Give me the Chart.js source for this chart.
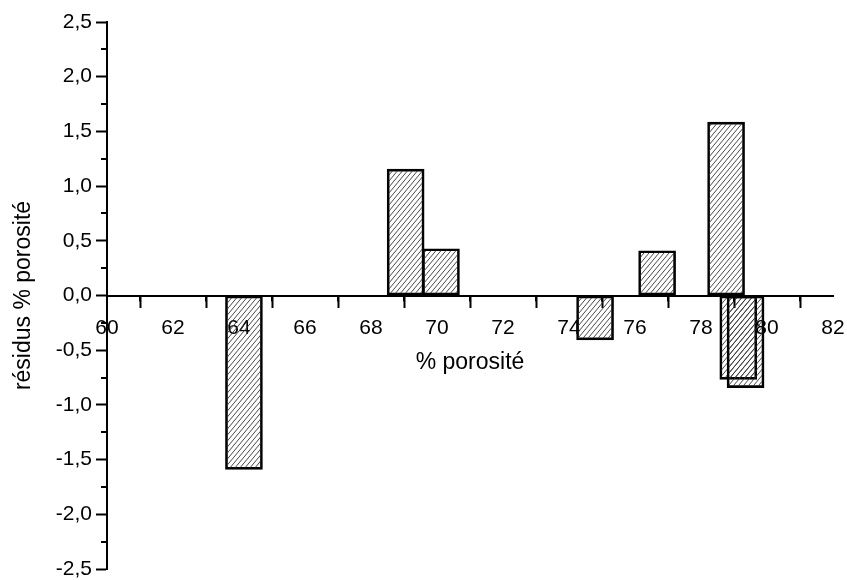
<!DOCTYPE html>
<html>
<head>
<meta charset="utf-8">
<script src="https://cdn.jsdelivr.net/npm/chart.js@4.4.1/dist/chart.umd.min.js"></script>
<style>
  html, body { margin: 0; padding: 0; background: #fff; }
  #wrap { width: 847px; height: 580px; }
</style>
</head>
<body>
<div id="wrap"><canvas id="residus"></canvas></div>
<script>
// data
const porosite = [64.15, 69.05, 70.12, 74.79, 76.67, 78.76, 79.13, 79.35];
const residus = [-1.59, 1.155, 0.427, -0.405, 0.409, 1.585, -0.766, -0.842];

// axis ranges / tick steps
const xMin = 60, xMax = 82, xStep = 2;
const yMin = -2.5, yMax = 2.5, yStep = 0.5;

const xTitle = "% porosité";
const yTitle = "résidus % porosité";

const FONT = "'Liberation Sans', Arial, sans-serif";

// hatch "/" pattern, transparent background
function hatch() {
  const c = document.createElement("canvas");
  c.width = 5;
  c.height = 6;
  const g = c.getContext("2d");
  g.strokeStyle = "#333";
  g.lineWidth = 0.9;
  g.beginPath();
  for (let k = -1; k <= 1; k++) {
    g.moveTo(-1 + k * 5, 7);
    g.lineTo(6 + k * 5, -1.4);
  }
  g.stroke();
  return g.createPattern(c, "repeat");
}

// minor ticks (half steps), drawn through the scales
const minorTicks = {
  id: "minorTicks",
  afterDraw(chart) {
    const { ctx } = chart;
    const x = chart.scales.x;
    const y = chart.scales.y;
    const y0 = y.getPixelForValue(0);
    ctx.save();
    ctx.strokeStyle = "#000";
    ctx.lineWidth = 2;
    ctx.beginPath();
    for (let v = xMin + xStep / 2; v < xMax; v += xStep) {
      const px = Math.round(x.getPixelForValue(v));
      ctx.moveTo(px, y0);
      ctx.lineTo(px, y0 + 6);
    }
    for (let v = yMin + yStep / 2; v < yMax; v += yStep) {
      const py = Math.round(y.getPixelForValue(v));
      ctx.moveTo(x.left, py);
      ctx.lineTo(x.left - 6, py);
    }
    ctx.stroke();
    ctx.restore();
  },
};

const ctx = document.getElementById("residus").getContext("2d");
const chart = new Chart(ctx, {
  type: "bar",
  data: {
    datasets: [
      {
        data: porosite.map((p, i) => ({ x: p, y: residus[i] })),
        backgroundColor: hatch(),
        borderColor: "#000",
        borderWidth: 2,
        borderSkipped: false,
        barThickness: 37,
      },
    ],
  },
  options: {
    responsive: true,
    maintainAspectRatio: false,
    animation: false,
    layout: { padding: { top: 22, right: 14, bottom: 11, left: 0 } },
    plugins: {
      legend: { display: false },
      tooltip: { enabled: false },
    },
    scales: {
      x: {
        type: "linear",
        position: { y: 0 },
        min: xMin,
        max: xMax,
        offset: false,
        afterFit(scale) {
          scale.paddingLeft = 0;
          scale.paddingRight = 0;
        },
        grid: {
          drawOnChartArea: false,
          tickLength: 11,
          tickWidth: 2,
          tickColor: "#000",
        },
        border: { display: true, color: "#000", width: 2 },
        ticks: {
          stepSize: xStep,
          autoSkip: false,
          maxRotation: 0,
          color: "#000",
          padding: 9,
          font: { family: FONT, size: 21 },
        },
        title: {
          display: true,
          text: xTitle,
          color: "#000",
          padding: { top: -1, bottom: 4 },
          font: { family: FONT, size: 23 },
        },
      },
      y: {
        type: "linear",
        position: "left",
        min: yMin,
        max: yMax,
        afterFit(scale) {
          scale.width = 107;
          scale.paddingTop = 0;
          scale.paddingBottom = 0;
        },
        grid: {
          drawOnChartArea: false,
          tickLength: 11,
          tickWidth: 2,
          tickColor: "#000",
        },
        border: { display: true, color: "#000", width: 2 },
        ticks: {
          stepSize: yStep,
          color: "#000",
          padding: 4,
          font: { family: FONT, size: 21 },
          callback: (v) => v.toFixed(1).replace(".", ","),
        },
        title: {
          display: true,
          text: yTitle,
          color: "#000",
          padding: { top: 10, bottom: 4 },
          font: { family: FONT, size: 23 },
        },
      },
    },
  },
  plugins: [minorTicks],
});
</script>
</body>
</html>
